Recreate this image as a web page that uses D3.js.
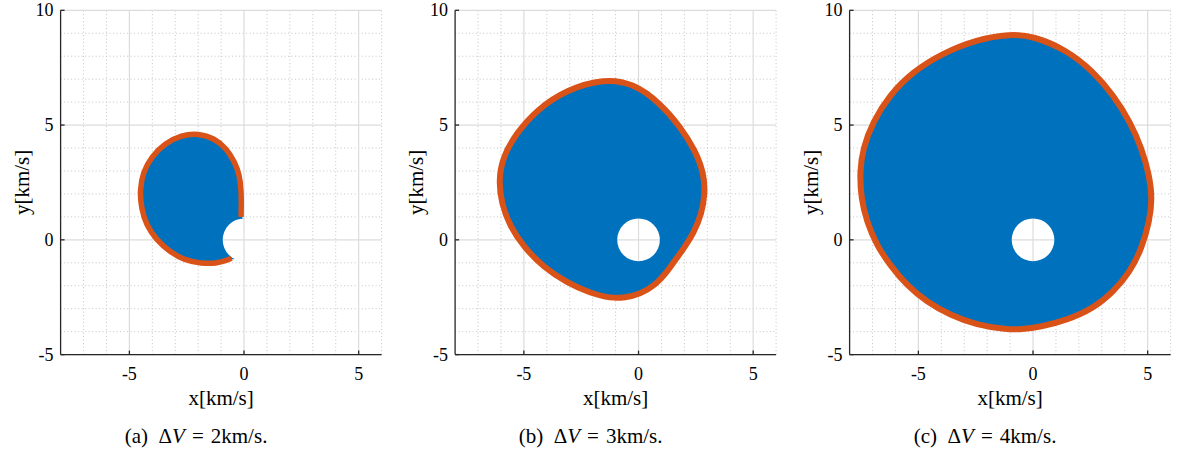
<!DOCTYPE html>
<html>
<head>
<meta charset="utf-8">
<script src="https://cdn.jsdelivr.net/npm/d3@7"></script>
<style>
  body { margin: 0; background: #fff; }
  svg { display: block; }
  text { font-family: "Liberation Serif", "Times New Roman", serif; fill: #000; }
</style>
</head>
<body>
<svg id="chart" width="1177" height="455" font-family="Liberation Serif, Times New Roman, serif"></svg>
<script>
// Reachable velocity sets for three impulse budgets (km/s)
const deltaV = [2, 3, 4];
const panelTags = ["(a)", "(b)", "(c)"];

const xDomain = [-8, 6];
const yDomain = [-5, 10];
const xMajorTicks = [-5, 0, 5];
const yMajorTicks = [-5, 0, 5, 10];
const xMinorTicks = [-7, -6, -4, -3, -2, -1, 1, 2, 3, 4, 6];
const yMinorTicks = [-4, -3, -2, -1, 1, 2, 3, 4, 6, 7, 8, 9];

// Radius of the excluded region around the origin
const holeRadius = [0.93, 0.93, 0.93];

// Envelope of the reachable set, ΔV = 2 km/s (open arc, ends at the hole)
const boundaryA = [
  [-0.13, 1.0], [-0.12, 1.5], [-0.12, 2.09], [-0.19, 2.82], [-0.41, 3.40],
  [-0.77, 3.98], [-1.28, 4.42], [-2.0, 4.64], [-2.73, 4.56], [-3.46, 4.2],
  [-4.04, 3.62], [-4.4, 2.96], [-4.55, 2.17], [-4.48, 1.37], [-4.26, 0.64],
  [-3.82, 0.0], [-3.24, -0.52], [-2.59, -0.89], [-1.86, -1.03], [-1.21, -1.03],
  [-0.73, -0.89], [-0.55, -0.8]
];
// Points inside the hole that close the filled set for ΔV = 2 km/s
const closureA = [[-0.4, -0.92], [0.2, -0.2], [0.2, 0.5], [-0.05, 0.97]];

// Envelope, ΔV = 3 km/s (closed)
const boundaryB = [
  [-1.5, 7.02], [-0.22, 6.82], [0.95, 5.95], [1.82, 4.93], [2.47, 3.91],
  [2.85, 2.9], [2.9, 2.02], [2.76, 1.15], [2.4, 0.28], [1.97, -0.38],
  [1.62, -0.85], [1.24, -1.4], [0.73, -1.98], [0.07, -2.36], [-0.6, -2.52],
  [-1.2, -2.55], [-2.11, -2.32], [-3.12, -1.87], [-4.14, -1.2], [-5.01, -0.3],
  [-5.6, 0.57], [-5.98, 1.59], [-6.1, 2.6], [-5.92, 3.62], [-5.33, 4.64],
  [-4.45, 5.66], [-3.12, 6.55]
];

// Envelope, ΔV = 4 km/s (closed)
const boundaryC = [
  [-1.0, 8.97], [0.01, 8.88], [1.47, 8.27], [2.63, 7.33], [3.5, 6.31],
  [4.23, 5.15], [4.74, 3.99], [5.07, 2.82], [5.2, 1.81], [5.08, 0.79],
  [4.74, -0.37], [4.23, -1.4], [3.5, -2.27], [2.63, -2.99], [1.47, -3.5],
  [0.31, -3.8], [-0.5, -3.9], [-1.15, -3.91], [-2.46, -3.71], [-3.62, -3.28],
  [-4.64, -2.7], [-5.51, -1.98], [-6.24, -1.1], [-6.82, -0.23], [-7.25, 0.79],
  [-7.5, 1.81], [-7.56, 2.97], [-7.42, 3.99], [-6.98, 5.15], [-6.26, 6.31],
  [-5.24, 7.33], [-3.93, 8.14], [-2.46, 8.73]
];

const panels = [
  { fill: boundaryA.concat(closureA), edge: boundaryA, closed: false, width: 5.5 },
  { fill: boundaryB, edge: boundaryB, closed: true, width: 6 },
  { fill: boundaryC, edge: boundaryC, closed: true, width: 6 }
];

const BLUE = "#0072BD";
const ORANGE = "#D95319";

const svg = d3.select("#chart");
const defs = svg.append("defs");

const plotW = 321, plotH = 344.3, plotTop = 10.3, panelStep = 394.5, firstLeft = 60.6;

panels.forEach((p, i) => {
  const left = firstLeft + i * panelStep;
  const x = d3.scaleLinear().domain(xDomain).range([left, left + plotW]);
  const y = d3.scaleLinear().domain(yDomain).range([plotTop + plotH, plotTop]);
  const g = svg.append("g");

  // minor grid (dotted)
  g.selectAll(".vminor").data(xMinorTicks).join("line")
    .attr("x1", d => x(d)).attr("x2", d => x(d))
    .attr("y1", y(yDomain[0])).attr("y2", y(yDomain[1]))
    .attr("stroke", "#c4c4c4").attr("stroke-width", 1).attr("stroke-dasharray", "1,2.5");
  g.selectAll(".hminor").data(yMinorTicks).join("line")
    .attr("y1", d => y(d)).attr("y2", d => y(d))
    .attr("x1", x(xDomain[0])).attr("x2", x(xDomain[1]))
    .attr("stroke", "#c4c4c4").attr("stroke-width", 1).attr("stroke-dasharray", "1,2.5");
  // major grid (solid)
  g.selectAll(".vmajor").data(xMajorTicks).join("line")
    .attr("x1", d => x(d)).attr("x2", d => x(d))
    .attr("y1", y(yDomain[0])).attr("y2", y(yDomain[1]))
    .attr("stroke", "#dcdcdc").attr("stroke-width", 1.2);
  g.selectAll(".hmajor").data(yMajorTicks).join("line")
    .attr("y1", d => y(d)).attr("y2", d => y(d))
    .attr("x1", x(xDomain[0])).attr("x2", x(xDomain[1]))
    .attr("stroke", "#dcdcdc").attr("stroke-width", 1.2);

  // mask that cuts the excluded disc out of the reachable set
  const maskId = "hole" + i;
  const mask = defs.append("mask").attr("id", maskId).attr("maskUnits", "userSpaceOnUse")
    .attr("x", 0).attr("y", 0).attr("width", 1177).attr("height", 455);
  mask.append("rect").attr("x", 0).attr("y", 0).attr("width", 1177).attr("height", 455).attr("fill", "#fff");
  mask.append("ellipse")
    .attr("cx", x(0)).attr("cy", y(0))
    .attr("rx", x(holeRadius[i]) - x(0)).attr("ry", y(0) - y(holeRadius[i]))
    .attr("fill", "#000");

  // smooth B-spline through the sampled envelope
  const areaLine = d3.line().x(d => x(d[0])).y(d => y(d[1])).curve(d3.curveBasisClosed);
  g.append("path").attr("d", areaLine(p.fill))
    .attr("fill", BLUE).attr("mask", `url(#${maskId})`);

  const edgeLine = d3.line().x(d => x(d[0])).y(d => y(d[1]))
    .curve(p.closed ? d3.curveBasisClosed : d3.curveBasis);
  g.append("path").attr("d", edgeLine(p.edge))
    .attr("fill", "none").attr("stroke", ORANGE).attr("stroke-width", p.width)
    .attr("stroke-linejoin", "round").attr("stroke-linecap", "butt");

  // axes: left and bottom only, ticks pointing inward
  const axisColor = "#262626";
  g.append("line").attr("x1", x(xDomain[0])).attr("x2", x(xDomain[0]))
    .attr("y1", y(yDomain[0])).attr("y2", y(yDomain[1]))
    .attr("stroke", axisColor).attr("stroke-width", 1.3);
  g.append("line").attr("x1", x(xDomain[0])).attr("x2", x(xDomain[1]))
    .attr("y1", y(yDomain[0])).attr("y2", y(yDomain[0]))
    .attr("stroke", axisColor).attr("stroke-width", 1.3);
  g.selectAll(".ytick").data(yMajorTicks).join("line")
    .attr("x1", x(xDomain[0])).attr("x2", x(xDomain[0]) + 4)
    .attr("y1", d => y(d)).attr("y2", d => y(d))
    .attr("stroke", axisColor).attr("stroke-width", 1.3);
  g.selectAll(".xtick").data(xMajorTicks).join("line")
    .attr("x1", d => x(d)).attr("x2", d => x(d))
    .attr("y1", y(yDomain[0])).attr("y2", y(yDomain[0]) - 4)
    .attr("stroke", axisColor).attr("stroke-width", 1.3);

  // tick labels
  g.selectAll(".ylab").data(yMajorTicks).join("text")
    .attr("x", x(xDomain[0]) - 7).attr("y", d => y(d) + 6)
    .attr("text-anchor", "end").attr("font-size", 18)
    .text(d => String(d));
  g.selectAll(".xlab").data(xMajorTicks).join("text")
    .attr("x", d => x(d)).attr("y", y(yDomain[0]) + 25)
    .attr("text-anchor", "middle").attr("font-size", 18)
    .text(d => String(d));

  // axis titles
  g.append("text").attr("x", left + plotW / 2).attr("y", 405)
    .attr("text-anchor", "middle").attr("font-size", 21).text("x[km/s]");
  g.append("text")
    .attr("transform", `translate(${left - 32},${plotTop + plotH / 2}) rotate(-90)`)
    .attr("text-anchor", "middle").attr("font-size", 21).text("y[km/s]");

  // sub-caption
  const cap = g.append("text").attr("x", left + 135.5).attr("y", 443)
    .attr("text-anchor", "middle").attr("font-size", 21);
  cap.append("tspan").text(panelTags[i] + "\u2002\u0394");
  cap.append("tspan").attr("font-style", "italic").text("V");
  cap.append("tspan").text(`\u2004=\u2004${deltaV[i]}km/s.`);
});
</script>
</body>
</html>
